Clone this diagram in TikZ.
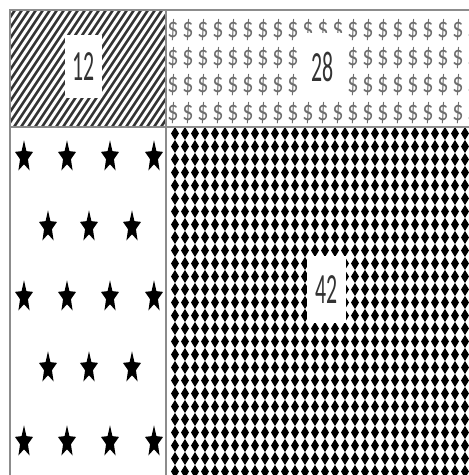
\documentclass[tikz,border=0pt]{standalone}
\usepackage{fontspec}
\setmainfont{Carlito}
\usepackage{graphicx}
\usetikzlibrary{shapes.geometric}

\definecolor{frame}{HTML}{8C8C8C}
\definecolor{ink}{HTML}{333333}
\definecolor{dollargray}{HTML}{6E6E6E}

\tikzset{
  numbox/.style={fill=white,inner sep=0pt,text=ink,font=\fontsize{21}{21}\selectfont},
  dollarmark/.style={inner sep=0pt,text=dollargray,font=\fontsize{22}{22}\selectfont},
  starmark/.style={star,star points=5,star point ratio=2.3,fill=black,inner sep=0pt,minimum size=19pt},
}
\newcommand{\tallnum}[1]{\scalebox{1.04}[2.05]{#1}}

\begin{document}
\begin{tikzpicture}[x=1pt,y=-1pt]
  \useasboundingbox (0,0) rectangle (469,475);
  \clip (0,0) rectangle (469,475);

  % hatched cell
  \begin{scope}
    \clip (10,10) rectangle (166,127);
    \foreach \i in {0,...,34} \draw[ink,line width=2.6pt] (\i*7-70,127) -- ++(78,-117);
  \end{scope}

  % dollar cell (middle rows skipped behind the label)
  \begin{scope}
    \clip (166,10) rectangle (469,127);
    \foreach \k in {0,...,20}
      \foreach \j in {0,...,3}
        {\pgfmathtruncatemacro{\hide}{(\k>8)*(\k<12)*(\j>0)*(\j<3)}
         \ifnum\hide=0
           \node[dollarmark] (d\k-\j) at (173+15*\k,30+27.7*\j) {\scalebox{1}[1.3]{\$}};
         \fi}
  \end{scope}

  % star cell
  \foreach \y in {157,297,442}
    \foreach \x in {24,67,110,154}
      {\begin{scope}[shift={(\x,\y)},yscale=1.75]
         \node[starmark,transform shape] (s\x-\y) at (0,0) {};
       \end{scope}}
  \foreach \y in {227,368}
    \foreach \x in {48,89,132}
      {\begin{scope}[shift={(\x,\y)},yscale=1.75]
         \node[starmark,transform shape] (s\x-\y) at (0,0) {};
       \end{scope}}

  % diamond cell
  \begin{scope}
    \clip (166,127) rectangle (469,475);
    \foreach \c in {0,...,30}
      \foreach \r in {0,...,26}
        \fill (175+10*\c,133.5+13*\r) +(-4,0) -- +(0,-6.5) -- +(4,0) -- +(0,6.5) -- cycle;
  \end{scope}

  % frame
  \draw[frame,line width=1.6pt] (10,10) rectangle (480,485);
  \draw[frame,line width=1.6pt] (10,127) -- (480,127);
  \draw[frame,line width=1.6pt] (166,10) -- (166,485);

  % labels
  \node[numbox,minimum width=37pt,minimum height=63pt] (n12) at (83.5,66.5) {\tallnum{12}};
  \node[numbox,minimum width=47pt,minimum height=68pt] (n28) at (322.5,67) {\tallnum{28}};
  \node[numbox,minimum width=39pt,minimum height=67pt] (n42) at (326.5,289.5) {\tallnum{42}};
\end{tikzpicture}
\end{document}
